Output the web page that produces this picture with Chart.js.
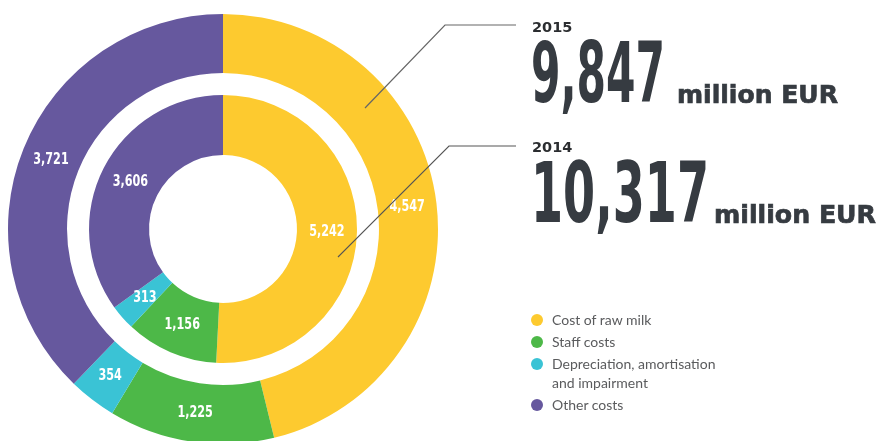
<!DOCTYPE html>
<html>
<head>
<meta charset="utf-8">
<script src="https://cdn.jsdelivr.net/npm/chart.js@4.4.1/dist/chart.umd.min.js"></script>
<style>
  html, body { margin: 0; padding: 0; background: #fff; overflow: hidden; width: 880px; height: 441px; }
  #chartBox { position: absolute; left: 0; top: 0; width: 446px; height: 458px; }
  #overlay { position: absolute; left: 0; top: 0; }
</style>
</head>
<body>
<div id="chartBox"><canvas id="costChart"></canvas></div>
<svg id="overlay" width="880" height="441"></svg>

<script>
// Kategori biaya dan warnanya
const categories = ['Cost of raw milk', 'Staff costs', 'Depreciation, amortisation and impairment', 'Other costs'];
const legendLines = [['Cost of raw milk'], ['Staff costs'], ['Depreciation, amortisation', 'and impairment'], ['Other costs']];
const colors = ['#fdca2f', '#4db848', '#3ac3d5', '#66589e'];

// Nilai dalam juta EUR
const years = ['2015', '2014'];
const values2015 = [4547, 1225, 354, 3721];
const values2014 = [5242, 1156, 313, 3606];

const fmt = n => n.toLocaleString('en-US');
const sum = arr => arr.reduce((a, b) => a + b, 0);

// Label angka putih di tengah setiap irisan (dipersempit agar mirip huruf condensed)
const sliceLabels = {
    id: 'sliceLabels',
    afterDatasetsDraw(chart) {
        const ctx = chart.ctx;
        chart.data.datasets.forEach((ds, i) => {
            if (ds.isGap) return;
            const meta = chart.getDatasetMeta(i);
            meta.data.forEach((arc, j) => {
                const p = arc.tooltipPosition();
                ctx.save();
                ctx.fillStyle = '#ffffff';
                ctx.font = 'bold 16px "DejaVu Sans", sans-serif';
                ctx.textAlign = 'center';
                ctx.textBaseline = 'middle';
                ctx.translate(p.x, p.y);
                ctx.scale(0.7, 1);
                ctx.fillText(fmt(ds.data[j]), 0, 0);
                ctx.restore();
            });
        });
    }
};

new Chart(document.getElementById('costChart'), {
    type: 'doughnut',
    data: {
        labels: categories,
        datasets: [
            { label: years[0], data: values2015, backgroundColor: colors, borderWidth: 0, weight: 59 },
            { label: 'gap', data: [1], backgroundColor: 'rgba(0,0,0,0)', borderWidth: 0, weight: 22, isGap: true },
            { label: years[1], data: values2014, backgroundColor: colors, borderWidth: 0, weight: 60 }
        ]
    },
    options: {
        responsive: true,
        maintainAspectRatio: false,
        animation: false,
        radius: 215,
        cutout: '34.4%',
        layout: { padding: 0 },
        plugins: { legend: { display: false }, tooltip: { enabled: false } }
    },
    plugins: [sliceLabels]
});

// Teks total, garis penunjuk, dan legenda di sisi kanan
const svg = document.getElementById('overlay');
const NS = 'http://www.w3.org/2000/svg';
function add(tag, attrs, text) {
    const el = document.createElementNS(NS, tag);
    for (const k in attrs) el.setAttribute(k, attrs[k]);
    if (text !== undefined) el.textContent = text;
    svg.appendChild(el);
    return el;
}

add('polyline', { points: '365,108 445,25 516,25', fill: 'none', stroke: '#666', 'stroke-width': 1.2 });
add('polyline', { points: '338,257 449,146 516,146', fill: 'none', stroke: '#555', 'stroke-width': 1.2 });

const totals = [
    { year: years[0], total: sum(values2015), yearY: 32, base: 102, numW: 134, unitX: 677, unitW: 161 },
    { year: years[1], total: sum(values2014), yearY: 152, base: 222, numW: 178, unitX: 714, unitW: 162 }
];
totals.forEach(t => {
    add('text', { x: 532, y: t.yearY, fill: '#2b2d30', 'font-family': 'DejaVu Sans', 'font-weight': 'bold', 'font-size': 14.5 }, t.year);
    add('text', { x: 531, y: t.base, fill: '#363b41', 'font-family': 'DejaVu Sans, sans-serif',
        'font-weight': 'bold', 'font-size': 83, textLength: t.numW, lengthAdjust: 'spacingAndGlyphs' }, fmt(t.total));
    add('text', { x: t.unitX, y: t.base + 1, fill: '#363b41', stroke: '#363b41', 'stroke-width': 0.7, 'font-family': 'DejaVu Sans', 'font-weight': 'bold',
        'font-size': 25, textLength: t.unitW, lengthAdjust: 'spacingAndGlyphs' }, 'million EUR');
});

let ly = 320;
legendLines.forEach((lines, i) => {
    add('circle', { cx: 537, cy: ly, r: 6, fill: colors[i] });
    lines.forEach((line, k) => {
        add('text', { x: 552, y: ly + 5 + k * 19, fill: '#5a5b5d', 'font-family': 'Lato, sans-serif', 'font-size': 14 }, line);
    });
    ly += 22 + (lines.length - 1) * 19;
});
</script>
</body>
</html>
